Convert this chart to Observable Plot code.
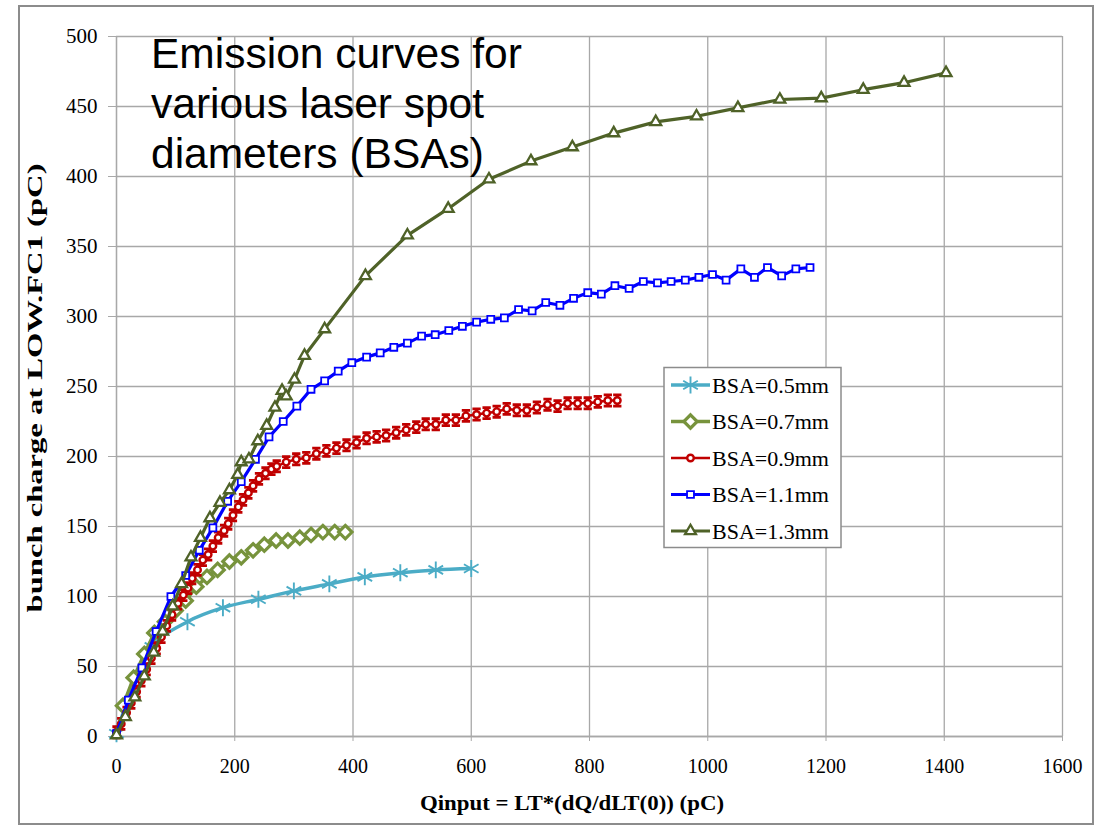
<!DOCTYPE html>
<html><head><meta charset="utf-8">
<script src="https://cdn.jsdelivr.net/npm/d3@7"></script>
<script src="https://cdn.jsdelivr.net/npm/@observablehq/plot@0.6"></script>
<style>
body{margin:0;background:#fff;}
#wrap{position:relative;width:1097px;height:828px;overflow:hidden;background:#fff;}
#wrap svg{position:absolute;left:0;top:0;}
#frame{position:absolute;left:18px;top:5px;width:1076px;height:820px;border:2px solid #8c8c8c;box-sizing:border-box;pointer-events:none;}
#title{position:absolute;left:151px;top:29px;font-family:"Liberation Sans",Arial,sans-serif;font-size:42.5px;line-height:50px;color:#000;white-space:nowrap;}
</style>
</head><body>
<div id="wrap"><div id="frame"></div></div>
<script>
// ---- data ----
const xTicks = [0,200,400,600,800,1000,1200,1400,1600];
const yTicks = [0,50,100,150,200,250,300,350,400,450,500];
const seriesNames = ["BSA=0.5mm","BSA=0.7mm","BSA=0.9mm","BSA=1.1mm","BSA=1.3mm"];
const titleLines = ["Emission curves for","various laser spot","diameters (BSAs)"];
const xLabel = "Qinput = LT*(dQ/dLT(0)) (pC)";
const yLabel = "bunch charge at LOW.FC1 (pC)";

const bsa05X = [0,60,120,180,240,300,360,420,480,540,600];
const bsa05Y = [2,64,82,92,98,104,109,114,117,119,120];

const bsa07X = [11,29,47,64,82,100,117,135,153,171,191,211,231,250,270,290,310,329,349,369,387];
const bsa07Y = [22,42,59,74,82,90,97,107,114,119,125,128,133,137,140,140,142,144,146,146,146];

const bsa09X = [0,8,17,25,34,42,51,59,68,76,85,94,104,113,121,128,137,146,155,163,172,182,189,197,206,214,223,231,241,252,262,271,287,304,321,338,355,372,389,406,423,440,456,473,490,507,523,540,557,574,591,609,626,643,660,677,694,711,729,746,763,780,797,814,831,847];
const bsa09Y = [3,9,17,24,32,40,48,56,63,71,79,87,95,101,106,113,119,126,130,136,142,147,152,158,164,169,174,179,184,188,191,193,196,198,199,202,204,206,208,210,213,214,215,217,219,221,223,223,226,226,229,230,231,232,234,233,233,235,237,236,238,238,238,239,240,240];

const bsa11X = [0,20,43,67,92,117,140,163,188,211,235,258,282,305,329,352,375,398,423,446,469,492,516,539,562,585,609,633,656,680,703,726,750,773,797,820,843,867,891,915,938,962,985,1008,1031,1056,1079,1101,1125,1149,1173];
const bsa11Y = [2,26,49,75,100,115,133,149,168,182,198,214,225,236,248,254,261,267,271,274,278,281,286,287,290,293,296,298,299,305,304,310,308,313,317,316,322,320,325,324,325,326,328,330,326,334,328,335,329,334,335];

const bsa13X = [0,15,31,47,63,78,95,110,126,142,158,175,191,205,211,224,239,254,268,280,287,301,318,352,421,492,561,630,701,771,841,912,981,1051,1122,1192,1263,1332,1403];
const bsa13Y = [1,14,28,43,60,75,93,109,128,142,156,167,176,187,196,198,211,222,235,247,243,255,272,291,329,358,377,398,411,421,431,439,443,449,455,456,462,467,474];

// ---- styles ----
const errorBar = {draw(ctx, size){const h=Math.sqrt(size)*0.6, w=h*0.75; ctx.moveTo(0,-h); ctx.lineTo(0,h); ctx.moveTo(-w,-h); ctx.lineTo(w,-h); ctx.moveTo(-w,h); ctx.lineTo(w,h);}};
const styles = [
  {color:"#4BACC6", lw:3.5, curve:"catmull-rom", symbol:"asterisk", r:8, sw:1.9, fill:"none"},
  {color:"#77933C", lw:3.5, curve:"linear", symbol:"diamond2", r:6, sw:3.2, fill:"white"},
  {color:"#C00000", lw:2.5, curve:"linear", symbol:"circle", r:3.3, sw:2.4, fill:"white", err:true},
  {color:"#0000FF", lw:3.2, curve:"linear", symbol:"square2", r:4.4, sw:1.8, fill:"white"},
  {color:"#4F6228", lw:3.2, curve:"linear", symbol:"triangle2", r:5.2, sw:2.3, fill:"white"}
];
const xs = [bsa05X,bsa07X,bsa09X,bsa11X,bsa13X];
const ys = [bsa05Y,bsa07Y,bsa09Y,bsa11Y,bsa13Y];
const tables = xs.map((X,i)=>X.map((x,j)=>({x, y: ys[i][j]})));

const serif = "'Liberation Serif','Times New Roman',serif";
const marks = [
  Plot.gridX({ticks:xTicks, stroke:"#a8a8a8", strokeOpacity:1, strokeWidth:1.3}),
  Plot.gridY({ticks:yTicks, stroke:"#a8a8a8", strokeOpacity:1, strokeWidth:1.3}),
  Plot.axisX({ticks:xTicks, tickFormat:d=>String(d), label:null, tickSize:5, tickPadding:17, stroke:"#a8a8a8", fill:"black", fontSize:20, fontFamily:serif}),
  Plot.axisY({ticks:yTicks, tickFormat:d=>String(d), label:null, tickSize:8, tickPadding:11, stroke:"#a8a8a8", fill:"black", fontSize:21, fontFamily:serif}),
  Plot.ruleX([0], {stroke:"#a8a8a8", strokeWidth:1.3}),
  Plot.ruleY([0], {stroke:"#a8a8a8", strokeWidth:1.3})
];
tables.forEach((t,i)=>{
  const s = styles[i];
  marks.push(Plot.line(t, {x:"x", y:"y", stroke:s.color, strokeWidth:s.lw, curve:s.curve}));
  if (s.err) marks.push(Plot.dot(t, {x:"x", y:"y", symbol:errorBar, r:5.2, stroke:s.color, strokeWidth:2.8, fill:"none"}));
  marks.push(Plot.dot(t, {x:"x", y:"y", symbol:s.symbol, r:s.r, stroke:s.color, strokeWidth:s.sw, fill:s.fill}));
});

const chart = Plot.plot({
  width:1097, height:828,
  marginLeft:116, marginRight:35, marginTop:36, marginBottom:92,
  x:{domain:[0,1600]}, y:{domain:[0,500]},
  style:{background:"transparent", fontFamily:serif},
  marks
});
const wrap = document.getElementById("wrap");
wrap.insertBefore(chart, document.getElementById("frame"));

// title
const title = document.createElement("div");
title.id = "title";
title.innerHTML = titleLines.join("<br>");
wrap.appendChild(title);

// overlay: axis labels + legend
const ov = d3.select(wrap).append("svg").attr("width",1097).attr("height",828);
ov.append("text").attr("x",572).attr("y",810).attr("text-anchor","middle")
  .attr("font-family",serif).attr("font-weight","bold").attr("font-size",20)
  .attr("textLength",304).attr("lengthAdjust","spacingAndGlyphs").text(xLabel);
ov.append("text").attr("transform","translate(42,388) rotate(-90)").attr("text-anchor","middle")
  .attr("font-family",serif).attr("font-weight","bold").attr("font-size",20)
  .attr("textLength",449).attr("lengthAdjust","spacingAndGlyphs").text(yLabel);

const lg = ov.append("g");
lg.append("rect").attr("x",664).attr("y",367.5).attr("width",177).attr("height",180).attr("fill","white").attr("stroke","#8c8c8c").attr("stroke-width",1.5);
const symMap = {asterisk:d3.symbolAsterisk, diamond2:d3.symbolDiamond2, circle:d3.symbolCircle, square2:d3.symbolSquare2, triangle2:d3.symbolTriangle2};
seriesNames.forEach((name,i)=>{
  const s = styles[i], cy = 385 + i*36.5;
  lg.append("line").attr("x1",671).attr("x2",710).attr("y1",cy).attr("y2",cy).attr("stroke",s.color).attr("stroke-width",s.lw);
  lg.append("path").attr("transform",`translate(690.5,${cy})`)
    .attr("d", d3.symbol(symMap[s.symbol], Math.PI*s.r*s.r)())
    .attr("fill", s.fill).attr("stroke", s.color).attr("stroke-width", s.sw);
  lg.append("text").attr("x",712).attr("y",cy+7.5)
    .attr("font-family",serif).attr("font-size",22).attr("fill","black")
    .text(name);
});
</script>
</body></html>
